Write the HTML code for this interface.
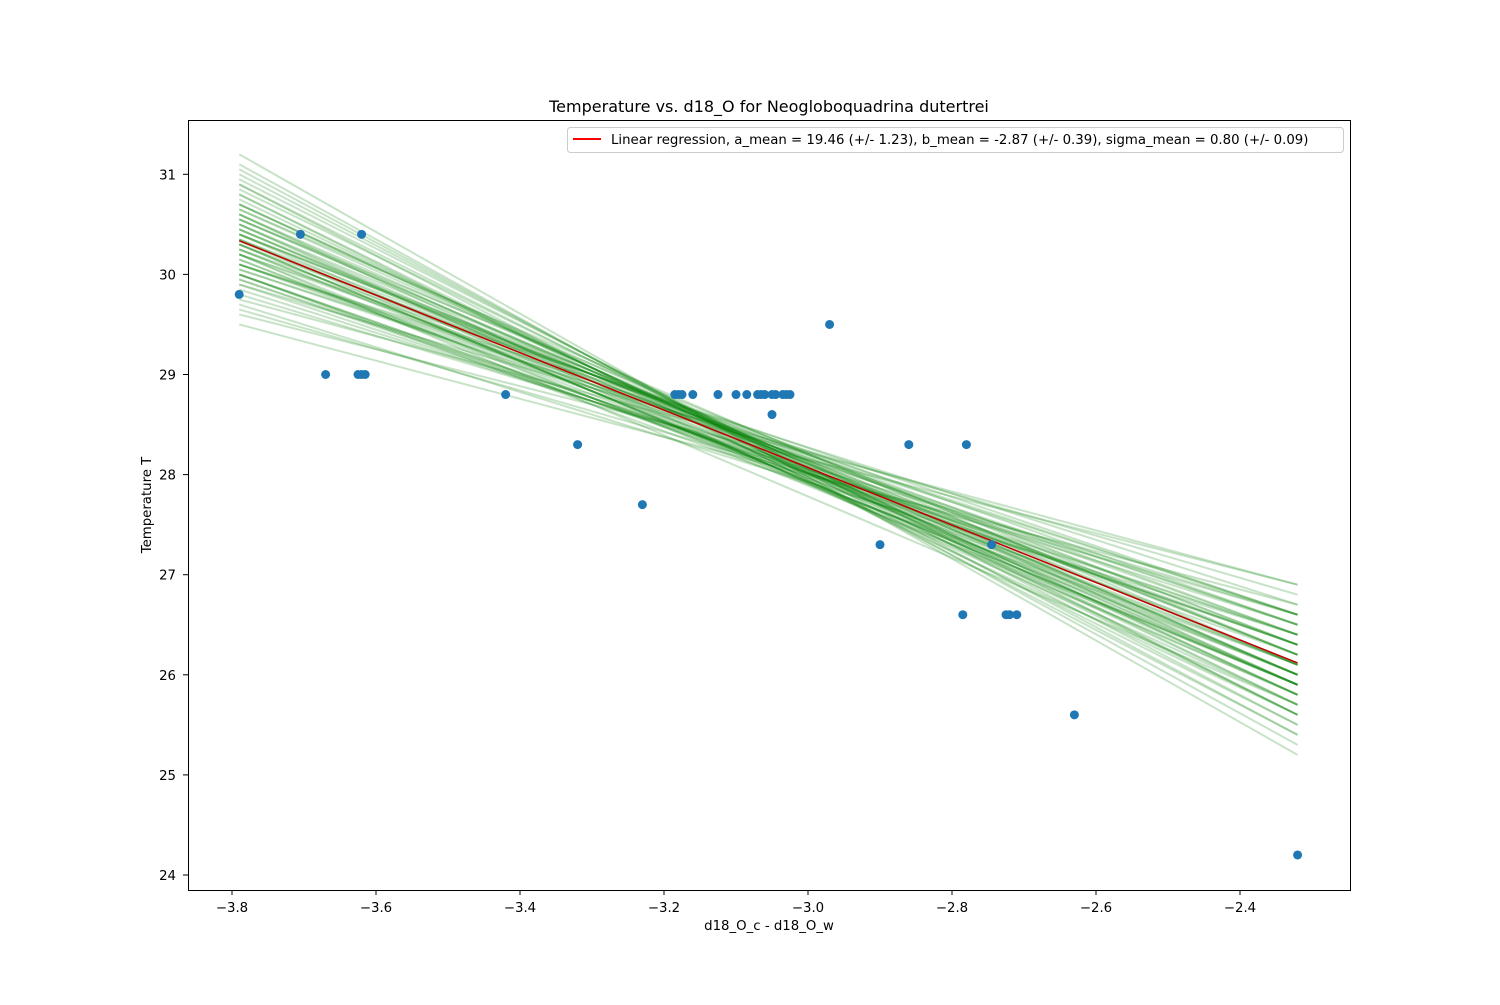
<!DOCTYPE html>
<html><head><meta charset="utf-8"><style>
body{margin:0;background:#fff;font-family:"Liberation Sans","DejaVu Sans",sans-serif;}
svg text{font-family:"DejaVu Sans","Liberation Sans",sans-serif;}
</style></head><body>
<svg id="chart" width="1500" height="1000" xmlns="http://www.w3.org/2000/svg">
<rect width="1500" height="1000" fill="#fff"/>
<text x="769" y="112" font-size="16" text-anchor="middle">Temperature vs. d18_O for Neogloboquadrina dutertrei</text>
<g id="samples"></g>
<g id="mean"></g>
<g id="points"></g>
<g id="axes"></g>
<rect x="188.5" y="120.5" width="1162" height="770" fill="none" stroke="#000" stroke-width="1"/>
<g>
<rect x="567.5" y="127.5" width="776" height="25" rx="3" fill="#fff" fill-opacity="0.85" stroke="#ccc"/>
<line x1="573" y1="139" x2="601" y2="139" style="stroke:red" stroke-width="2"/>
<text x="611" y="144" font-size="13.3">Linear regression, a_mean = 19.46 (+/- 1.23), b_mean = -2.87 (+/- 0.39), sigma_mean = 0.80 (+/- 0.09)</text>
</g>
<text x="769" y="930" font-size="13.3" text-anchor="middle">d18_O_c - d18_O_w</text>
<text transform="translate(151,505) rotate(-90)" font-size="13.3" text-anchor="middle">Temperature T</text>
</svg>
<script>
const xs=[-3.79,-3.705,-3.62,-3.67,-3.625,-3.62,-3.615,-3.42,-3.32,-3.23,-3.185,-3.18,-3.175,-3.16,-3.125,-3.10,-3.085,-3.07,-3.065,-3.06,-3.05,-3.045,-3.035,-3.03,-3.025,-3.05,-2.97,-2.9,-2.86,-2.78,-2.785,-2.745,-2.725,-2.72,-2.71,-2.63,-2.32];
const ys=[29.8,30.4,30.4,29.0,29.0,29.0,29.0,28.8,28.3,27.7,28.8,28.8,28.8,28.8,28.8,28.8,28.8,28.8,28.8,28.8,28.8,28.8,28.8,28.8,28.8,28.6,29.5,27.3,28.3,28.3,26.6,27.3,26.6,26.6,26.6,25.6,24.2];
const xTicks=[-3.8,-3.6,-3.4,-3.2,-3.0,-2.8,-2.6,-2.4];
const yTicks=[24,25,26,27,28,29,30,31];
const aMean=19.46, bMean=-2.87;
const sampleLeft=[30.33,30.6,30.1,30.9,29.8,30.45,30.2,31.1,29.6,30.7,30.0,30.5,30.35,29.9,30.8,30.25,31.2,29.5,30.55,30.15,30.4,30.05,30.95,29.7,30.65,30.3,30.1,30.75,29.95,30.5,30.2,31.0,29.85,30.6,30.4,30.0,30.85,30.3,29.65,30.45,30.55,30.25,30.7,30.1,29.9,31.05,30.35,30.2,30.6,30.0,30.4,30.15,30.5,30.3,30.8,29.75,30.25,30.65,30.05,30.45,30.35,30.9,29.95,30.55,30.2,30.1,30.7,30.4,30.0,30.3];
const sampleRight=[26.2,25.6,26.5,25.4,26.6,26.1,25.9,25.3,26.9,25.8,26.3,25.7,26.3,26.4,25.5,26.0,25.2,26.7,26.0,26.1,25.8,26.6,25.6,26.4,25.9,25.9,26.7,25.7,26.3,26.1,26.4,25.5,26.5,25.8,26.2,26.2,25.7,25.9,26.6,26.0,26.0,26.5,25.9,26.3,26.8,25.4,25.8,26.6,26.0,26.3,26.3,26.0,25.9,26.4,25.6,26.9,26.1,26.1,26.5,25.9,26.0,25.6,26.4,26.2,25.7,26.6,25.8,26.2,26.1,25.9];
const X=v=>232+(v+3.8)*720, Y=v=>875-(v-24)*100.1;
const NS="http://www.w3.org/2000/svg";
function mk(t,a,p){const e=document.createElementNS(NS,t);for(const k in a)e.setAttribute(k,a[k]);p.appendChild(e);return e;}
const sg=document.getElementById('samples');
for(let i=0;i<sampleLeft.length;i++){
 const l=mk('line',{x1:X(-3.79),y1:Y(sampleLeft[i]),x2:X(-2.32),y2:Y(sampleRight[i]),stroke:'green','stroke-opacity':0.22,'stroke-width':2},sg);
 
 
}
const mg=document.getElementById('mean');
const ml=mk('line',{x1:X(-3.79),y1:Y(aMean+bMean*-3.79),x2:X(-2.32),y2:Y(aMean+bMean*-2.32),stroke:'#c00000','stroke-width':1.5},mg);


const pg=document.getElementById('points');
for(let i=0;i<xs.length;i++){
 const c=mk('circle',{cx:X(xs[i]),cy:Y(ys[i]),r:4.5,fill:'#1f77b4'},pg);
 
 
}
const ag=document.getElementById('axes');
xTicks.forEach(t=>{
 mk('line',{x1:X(t),y1:890,x2:X(t),y2:895,stroke:'#000'},ag);
 const tx=mk('text',{x:X(t),y:912,'font-size':13.3,'text-anchor':'middle'},ag);
 tx.textContent=(t<0?'\u2212':'')+Math.abs(t).toFixed(1);
 
 
});
yTicks.forEach(t=>{
 mk('line',{x1:183,y1:Y(t),x2:188,y2:Y(t),stroke:'#000'},ag);
 const tx=mk('text',{x:176,y:Y(t)+5,'font-size':13.3,'text-anchor':'end'},ag);
 tx.textContent=t;
 
 
});
</script>
</body></html>
